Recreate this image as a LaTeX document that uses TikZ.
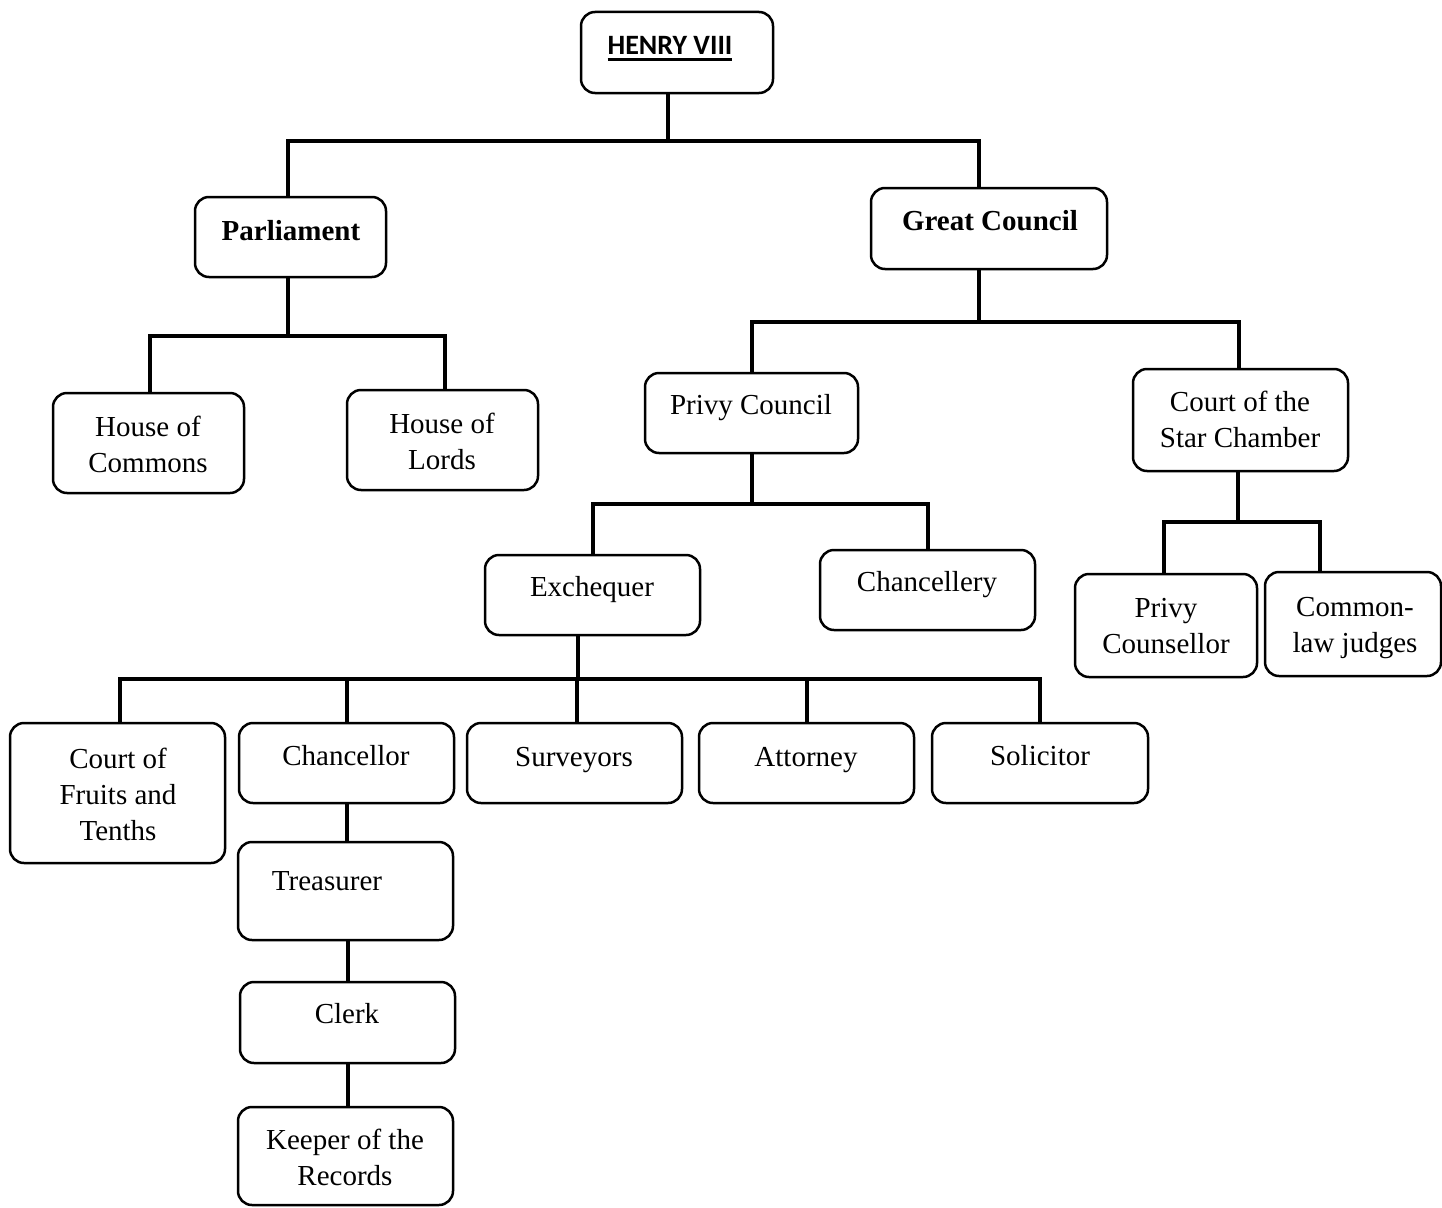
\documentclass[tikz,border=0pt]{standalone}
\usepackage{fontspec}
\setmainfont{Liberation Serif}
\newfontfamily\henryfont{Carlito}
\newcommand\thickul[1]{\setbox0=\hbox{#1}\rlap{\rule[-6pt]{\wd0}{3pt}}\box0}
\newcommand\obox[5]{\node[box, minimum width={#4-#2}, minimum height={#5-#3}] (#1) at ({(#2+#4)/2},{(#3+#5)/2}) {};}
\begin{document}
\begin{tikzpicture}[x=1pt,y=-1pt,
  box/.style={draw, line width=2.5pt, rounded corners=14pt, inner sep=0pt},
  lbl/.style={font=\fontsize{29}{36}\selectfont, align=center, anchor=base, inner sep=0pt},
  conn/.style={line width=4pt}]
\useasboundingbox (0,0) rectangle (1442,1207);
% boxes
\obox{henry}{581}{12}{773}{93}
\obox{parl}{195}{197}{386}{277}
\obox{gc}{871}{188}{1107}{269}
\obox{commons}{53}{393}{244}{493}
\obox{lords}{347}{390}{538}{490}
\obox{pc}{645}{373}{858}{453}
\obox{sc}{1133}{369}{1348}{471}
\obox{exch}{485}{555}{700}{635}
\obox{chancery}{820}{550}{1035}{630}
\obox{pcouns}{1075}{574}{1257}{677}
\obox{judges}{1265}{572}{1441}{676}
\obox{fruits}{10}{723}{225}{863}
\obox{chanc}{239}{723}{454}{803}
\obox{surv}{467}{723}{682}{803}
\obox{att}{699}{723}{914}{803}
\obox{solic}{932}{723}{1148}{803}
\obox{treas}{238}{842}{453}{940}
\obox{clerk}{240}{982}{455}{1063}
\obox{keeper}{238}{1107}{453}{1205}
% labels (base = baseline of the last line)
\node[lbl, font=\fontsize{28}{34}\selectfont\henryfont\bfseries] (henry-t) at (670,55) {\thickul{HENRY VIII}};
\node[lbl, font=\fontsize{29}{36}\selectfont\bfseries] (parl-t) at (291,240) {Parliament};
\node[lbl, font=\fontsize{29}{36}\selectfont\bfseries] (gc-t) at (990,230) {Great Council};
\node[lbl] (commons-t) at (148,472) {House of\\Commons};
\node[lbl] (lords-t) at (442,469) {House of\\Lords};
\node[lbl] (pc-t) at (751,414) {Privy Council};
\node[lbl] (sc-t) at (1240,447) {Court of the\\Star Chamber};
\node[lbl] (exch-t) at (592,596) {Exchequer};
\node[lbl] (chancery-t) at (927,591) {Chancellery};
\node[lbl] (pcouns-t) at (1166,653) {Privy\\Counsellor};
\node[lbl] (judges-t) at (1355,652) {Common-\\law judges};
\node[lbl] (fruits-t) at (118,840) {Court of\\Fruits and\\Tenths};
\node[lbl] (chanc-t) at (346,765) {Chancellor};
\node[lbl] (surv-t) at (574,766) {Surveyors};
\node[lbl] (att-t) at (806,766) {Attorney};
\node[lbl] (solic-t) at (1040,765) {Solicitor};
\node[lbl] (treas-t) at (327,890) {Treasurer};
\node[lbl] (clerk-t) at (347,1023) {Clerk};
\node[lbl] (keeper-t) at (345,1185) {Keeper of the\\Records};
% connectors
\draw[conn] ([xshift=-9pt]henry.south) -- ++(0,47) coordinate (jh);
\draw[conn] ([xshift=-3pt]parl.north) |- (jh) -| ([xshift=-10pt]gc.north);
\draw[conn] ([xshift=-3pt]parl.south) -- ++(0,58) coordinate (jp);
\draw[conn] ([xshift=1pt]commons.north) |- (jp) -| ([xshift=2pt]lords.north);
\draw[conn] ([xshift=-10pt]gc.south) -- ++(0,52) coordinate (jg);
\draw[conn] (pc.north) |- (jg) -| ([xshift=-2pt]sc.north);
\draw[conn] (pc.south) -- ++(0,50) coordinate (jpc);
\draw[conn] (exch.north) |- (jpc) -| (chancery.north);
\draw[conn] ([xshift=-3pt]sc.south) -- ++(0,50) coordinate (jsc);
\draw[conn] ([xshift=-2pt]pcouns.north) |- (jsc) -| ([xshift=-33pt]judges.north);
\draw[conn] ([xshift=-15pt]exch.south) -- ++(0,43) coordinate (je);
\draw[conn] ([xshift=2pt]fruits.north) |- (je) -| (solic.north);
\draw[conn] (chanc.north) -- (chanc.north |- je);
\draw[conn] ([xshift=2pt]surv.north) -- ([xshift=2pt]surv.north |- je);
\draw[conn] (att.north) -- (att.north |- je);
\draw[conn] (chanc.south) -- (chanc.south |- treas.north);
\draw[conn] ([xshift=2pt]treas.south) -- ([xshift=2pt]treas.south |- clerk.north);
\draw[conn] (clerk.south) -- (clerk.south |- keeper.north);
\end{tikzpicture}
\end{document}
